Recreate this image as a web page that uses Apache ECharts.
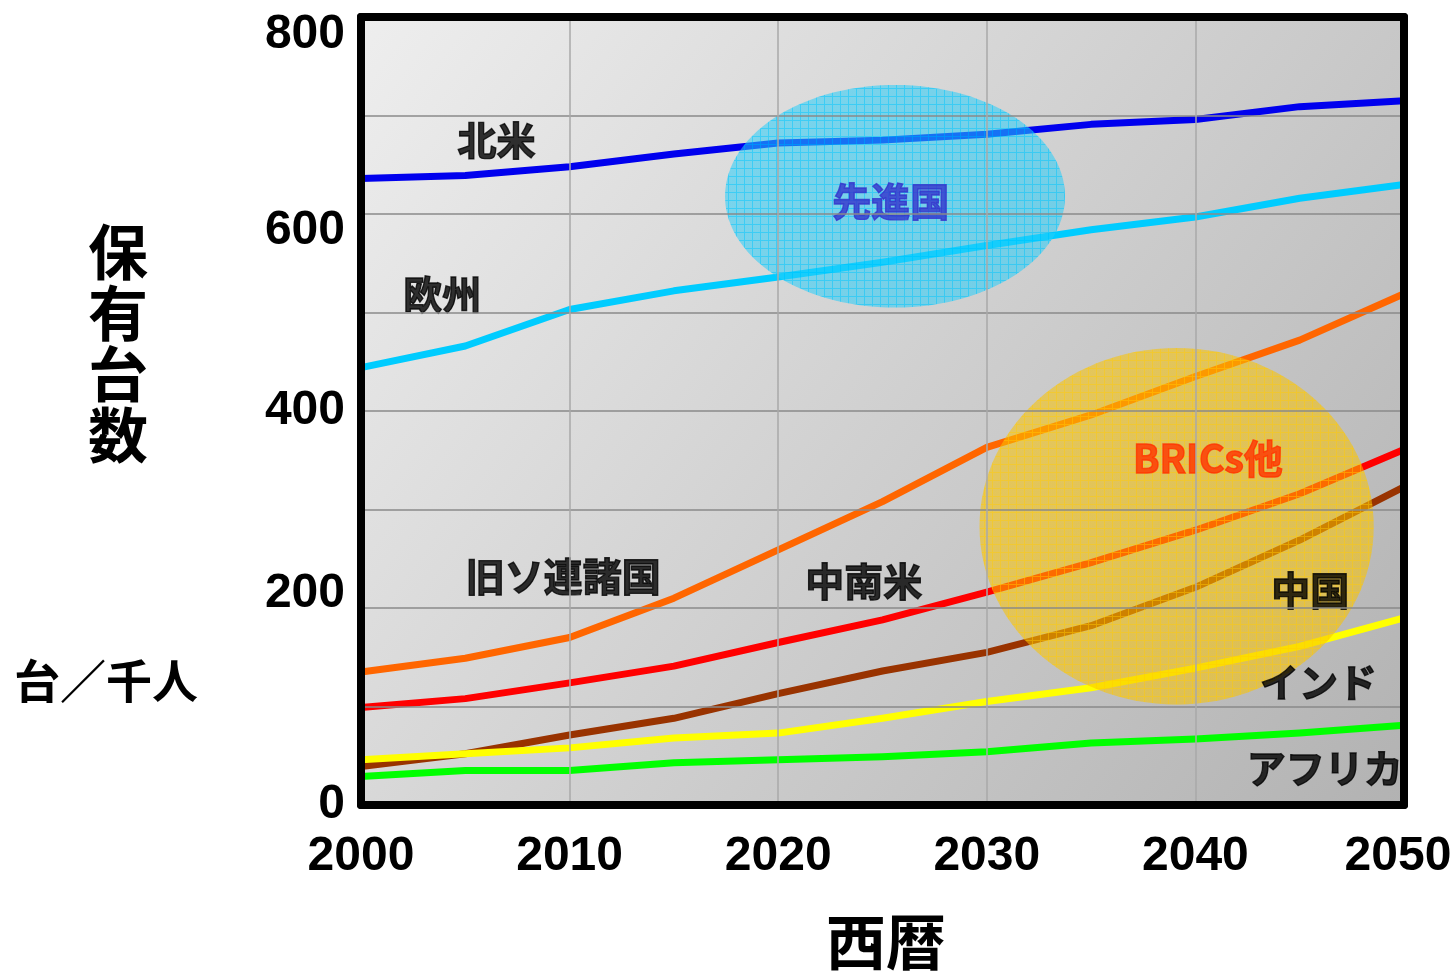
<!DOCTYPE html>
<html>
<head>
<meta charset="utf-8">
<script src="https://cdn.jsdelivr.net/npm/echarts@6/dist/echarts.min.js"></script>
<style>
html,body{margin:0;padding:0;background:#fff;}
#main{width:1452px;height:978px;}
</style>
</head>
<body>
<div id="main"></div>
<script>
// ---- data ----
const years = [2000, 2005, 2010, 2015, 2020, 2025, 2030, 2035, 2040, 2045, 2050];
const northAmerica = [636, 639, 648, 661, 672, 675, 681, 691, 696, 709, 715];
const europe = [444, 466, 503, 522, 536, 551, 568, 584, 597, 616, 630];
const formerUSSR = [135, 149, 170, 210, 259, 308, 363, 396, 435, 472, 519];
const latinAmerica = [99, 108, 124, 141, 165, 188, 216, 246, 279, 316, 361];
const china = [39, 52, 71, 88, 113, 136, 155, 182, 221, 269, 323];
const india = [46, 52, 58, 68, 73, 88, 105, 119, 139, 161, 190];
const africa = [29, 35, 35, 43, 46, 49, 54, 63, 67, 73, 81];

const yTickLabels = ['0', '200', '400', '600', '800'];
const xTickLabels = ['2000', '2010', '2020', '2030', '2040', '2050'];

// label annotations (data coordinates)
const labelTexts = ['北米', '欧州', '旧ソ連諸国', '中南米', '中国', 'インド', 'アフリカ', '先進国', 'BRICs他'];
const labelX = [2006.5, 2003.9, 2009.7, 2024.1, 2045.5, 2045.9, 2046.2, 2025.4, 2040.6];
const labelY = [675, 519, 232, 227, 218, 125, 37, 613, 352];
const labelColors = ['#000', '#000', '#000', '#000', '#000', '#000', '#000', '#3333cc', '#ff3300'];

// highlight ellipses (data coordinates)
const ellipseNames = ['先進国', 'BRICs他'];
const ellipseCx = [2025.6, 2039.1];
const ellipseCy = [618, 283];
const ellipseRx = [8.15, 9.45];
const ellipseRy = [113, 181];

// ---- helpers ----
function pair(vals) { return years.map((y, i) => [y, vals[i]]); }

function makePattern(base, line) {
  const s = 8;
  const c = document.createElement('canvas');
  c.width = s; c.height = s;
  const ctx = c.getContext('2d');
  ctx.fillStyle = base;
  ctx.fillRect(0, 1, s, s - 1);
  ctx.fillStyle = line;
  ctx.fillRect(0, 0, s, 1);
  ctx.clearRect(0, 1, 1, s - 1);
  ctx.fillRect(0, 1, 1, s - 1);
  return { image: c, repeat: 'repeat' };
}
const ellipseFills = [
  makePattern('rgba(40,205,250,0.55)', 'rgba(0,200,255,0.72)'),
  makePattern('rgba(250,195,0,0.55)', 'rgba(255,200,0,0.75)')
];

const chart = echarts.init(document.getElementById('main'));

const seriesDefs = [
  ['北米', northAmerica, '#0000ee'],
  ['欧州', europe, '#00ccff'],
  ['旧ソ連諸国', formerUSSR, '#ff6600'],
  ['中南米', latinAmerica, '#ff0000'],
  ['アフリカ', africa, '#00ff00'],
  ['中国', china, '#993300'],
  ['インド', india, '#ffff00']
];

const lineSeries = seriesDefs.map(d => ({
  name: d[0],
  type: 'line',
  data: pair(d[1]),
  symbol: 'none',
  smooth: false,
  z: 2,
  lineStyle: { color: d[2], width: 7, join: 'round', cap: 'butt' },
  animation: false
}));

const ellipseSeries = {
  type: 'custom',
  z: 3,
  animation: false,
  silent: true,
  data: ellipseNames.map((n, i) => [ellipseCx[i], ellipseCy[i], ellipseRx[i], ellipseRy[i], i]),
  encode: { x: 0, y: 1 },
  renderItem: function (params, api) {
    const c = api.coord([api.value(0), api.value(1)]);
    const rx = api.size([api.value(2), 0])[0];
    const ry = api.size([0, api.value(3)])[1];
    const idx = api.value(4);
    const pts = [];
    for (let k = 0; k < 120; k++) {
      const a = k / 120 * Math.PI * 2;
      pts.push([c[0] + rx * Math.cos(a), c[1] + ry * Math.sin(a)]);
    }
    return {
      type: 'polygon',
      shape: { points: pts },
      style: { fill: ellipseFills[idx], stroke: null }
    };
  }
};

const labelSeries = {
  type: 'scatter',
  z: 5,
  symbolSize: 0,
  animation: false,
  silent: true,
  data: labelTexts.map((t, i) => ({
    value: [labelX[i], labelY[i]],
    name: t,
    label: {
      show: true,
      position: 'inside',
      formatter: t,
      color: labelColors[i],
      fontSize: 39,
      fontWeight: 'bold',
      fontFamily: '"Noto Sans CJK JP", sans-serif',
      textBorderColor: labelColors[i],
      textBorderWidth: 1.4
    }
  }))
};

const axisFont = '"Liberation Sans Narrow", "Liberation Sans", Arial, sans-serif';
const borderLine = { show: true, onZero: false, lineStyle: { color: '#000', width: 8 } };

const yRich = {
  t800: { padding: [36, 0, 0, 0] },
  t600: { padding: [34, 0, 0, 0] },
  t200: { padding: [0, 0, 28, 0] }
};

const option = {
  backgroundColor: '#ffffff',
  animation: false,
  grid: {
    left: 361, right: 48, top: 17, bottom: 173,
    outerBoundsMode: 'none',
    containLabel: false,
    show: true,
    borderWidth: 0,
    backgroundColor: {
      type: 'linear', x: 0, y: 0, x2: 1, y2: 1,
      colorStops: [
        { offset: 0, color: '#eeeeee' },
        { offset: 1, color: '#b2b2b2' }
      ]
    }
  },
  xAxis: [{
    type: 'value',
    min: 2000, max: 2050, interval: 10,
    z: 10,
    axisLine: borderLine,
    axisTick: { show: false },
    splitLine: { show: true, lineStyle: { color: '#a9a9a9', width: 1.5 } },
    axisLabel: {
      margin: 28,
      fontSize: 48,
      fontWeight: 'bold',
      color: '#000',
      fontFamily: axisFont,
      hideOverlap: false,
      rich: { last: { padding: [0, 12, 0, 0] } },
      formatter: function (v) {
        const s = String(v);
        if (xTickLabels.indexOf(s) < 0) return '';
        return s === '2050' ? '{last|' + s + '}' : s;
      }
    }
  }, {
    type: 'value', position: 'top',
    min: 2000, max: 2050, interval: 10,
    z: 10,
    axisLine: borderLine,
    axisTick: { show: false },
    axisLabel: { show: false },
    splitLine: { show: false }
  }],
  yAxis: [{
    type: 'value',
    min: 0, max: 800, interval: 100,
    z: 10,
    axisLine: borderLine,
    axisTick: { show: false },
    splitLine: { show: true, lineStyle: { color: '#8a8a8a', width: 1.5 } },
    axisLabel: {
      margin: 16,
      fontSize: 48,
      fontWeight: 'bold',
      color: '#000',
      fontFamily: axisFont,
      hideOverlap: false,
      rich: yRich,
      formatter: function (v) {
        const s = String(v);
        if (yTickLabels.indexOf(s) < 0) return '';
        return yRich['t' + s] ? '{t' + s + '|' + s + '}' : s;
      }
    }
  }, {
    type: 'value', position: 'right',
    min: 0, max: 800, interval: 100,
    z: 10,
    axisLine: borderLine,
    axisTick: { show: false },
    axisLabel: { show: false },
    splitLine: { show: false }
  }],
  graphic: [
    {
      type: 'text', left: 88, top: 222,
      style: {
        text: '保\n有\n台\n数',
        font: 'bold 60px "Noto Sans CJK JP", sans-serif',
        lineHeight: 61, fill: '#000', textAlign: 'center'
      }
    },
    {
      type: 'text', left: 14, top: 658,
      style: {
        text: '台／千人',
        font: 'bold 46px "Noto Sans CJK JP", sans-serif',
        fill: '#000'
      }
    },
    {
      type: 'text', left: 826, top: 912,
      style: {
        text: '西暦',
        font: 'bold 60px "Noto Sans CJK JP", sans-serif',
        fill: '#000'
      }
    }
  ],
  series: lineSeries.concat([ellipseSeries, labelSeries])
};

chart.setOption(option);
</script>
</body>
</html>
